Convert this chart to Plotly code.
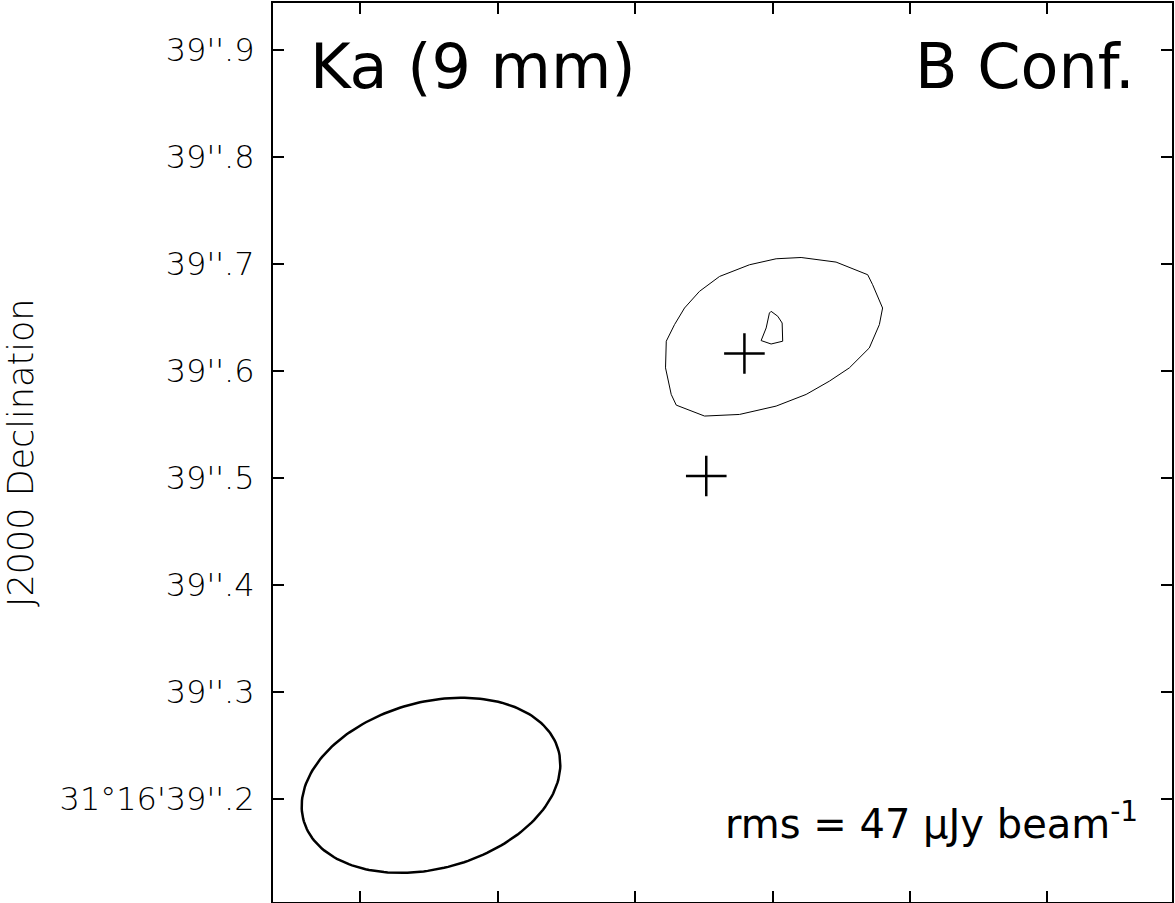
import numpy as np
import plotly.graph_objects as go

# RA offset (arcsec, east positive) and Dec (arcsec past 31d16m)
outer_ra = [-0.1549, -0.1875, -0.2170, -0.2216, -0.2309, -0.2279, -0.2185, -0.1999,
            -0.1813, -0.1596, -0.1316, -0.0974, -0.0648, -0.0384, -0.0337, -0.0284,
            -0.0291, -0.0368, -0.0461, -0.0601, -0.0788, -0.1067, -0.1316, -0.1549]
outer_dec = [39.7058, 39.7015, 39.6897, 39.6804, 39.6586, 39.6431, 39.6213, 39.6027,
             39.5903, 39.5779, 39.5670, 39.5592, 39.5577, 39.5679, 39.5779, 39.6027,
             39.6276, 39.6431, 39.6586, 39.6742, 39.6881, 39.6990, 39.7046, 39.7058]

inner_ra = [-0.1269, -0.1331, -0.1372, -0.1377, -0.1269, -0.1176, -0.1223, -0.1253, -0.1269]
inner_dec = [39.6555, 39.6509, 39.6446, 39.6276, 39.6250, 39.6282, 39.6400, 39.6539, 39.6555]

src_ra = [-0.1020, -0.0664]
src_dec = [39.6161, 39.5017]

# synthesized beam
beam_ra, beam_dec = 0.1904, 39.2128
beam_major, beam_minor, beam_pa = 0.2466, 0.1555, -74.6

ytick_vals = [39.2, 39.3, 39.4, 39.5, 39.6, 39.7, 39.8, 39.9]
ytick_text = ["31°16'39''.2", "39''.3", "39''.4", "39''.5",
              "39''.6", "39''.7", "39''.8", "39''.9"]
xtick_vals = [0.2564, 0.1282, 0.0, -0.1282, -0.2564, -0.3846]

# beam outline from its parameters
t = np.linspace(0, 2 * np.pi, 200)
pa = np.radians(beam_pa)
bx = beam_ra + beam_major / 2 * np.cos(t) * np.sin(pa) + beam_minor / 2 * np.sin(t) * np.cos(pa)
by = beam_dec + beam_major / 2 * np.cos(t) * np.cos(pa) - beam_minor / 2 * np.sin(t) * np.sin(pa)

fig = go.Figure()

fig.add_trace(go.Scatter(x=outer_ra, y=outer_dec, mode='lines',
                         line=dict(color='black', width=1), showlegend=False))
fig.add_trace(go.Scatter(x=inner_ra, y=inner_dec, mode='lines',
                         line=dict(color='black', width=1), showlegend=False))
fig.add_trace(go.Scatter(x=bx, y=by, mode='lines',
                         line=dict(color='black', width=2.5), showlegend=False))
fig.add_trace(go.Scatter(x=src_ra, y=src_dec, mode='markers',
                         marker=dict(symbol='cross-thin', size=29,
                                     line=dict(color='black', width=2.5)),
                         showlegend=False))

axis_common = dict(showgrid=False, zeroline=False, showline=True, linecolor='black',
                   linewidth=2, mirror='ticks', ticks='inside', ticklen=11,
                   tickwidth=2, tickcolor='black')

fig.update_xaxes(range=[0.3378, -0.5009], tickvals=xtick_vals, showticklabels=False,
                 **axis_common)
fig.update_yaxes(range=[39.1038, 39.9435], tickvals=ytick_vals, ticktext=ytick_text,
                 tickfont=dict(family='DejaVu Sans', size=32, color='black', weight=200),
                 ticklabelstandoff=10, **axis_common)

fig.update_layout(
    width=1175, height=903,
    margin=dict(l=273, r=2, t=1, b=1),
    plot_bgcolor='white', paper_bgcolor='white',
    font=dict(family='DejaVu Sans', color='black'),
    annotations=[
        dict(text='Ka (9 mm)', xref='paper', yref='paper', x=0.039, y=0.929,
             xanchor='left', yanchor='middle', showarrow=False,
             font=dict(size=62, family='DejaVu Sans')),
        dict(text='B Conf.', xref='paper', yref='paper', x=0.961, y=0.929,
             xanchor='right', yanchor='middle', showarrow=False,
             font=dict(size=62, family='DejaVu Sans')),
        dict(text='rms = 47 μJy beam<sup>-1</sup>', xref='paper', yref='paper',
             x=0.964, y=0.09, xanchor='right', yanchor='middle', showarrow=False,
             font=dict(size=40, family='DejaVu Sans')),
        dict(text='J2000 Declination', xref='paper', yref='paper', x=-0.281, y=0.5,
             xanchor='center', yanchor='middle', textangle=-90, showarrow=False,
             font=dict(size=35, family='DejaVu Sans', weight=200)),
    ],
)

fig.write_html("out.html", config={'displayModeBar': False},
               post_script="document.body.style.margin = '0';")
